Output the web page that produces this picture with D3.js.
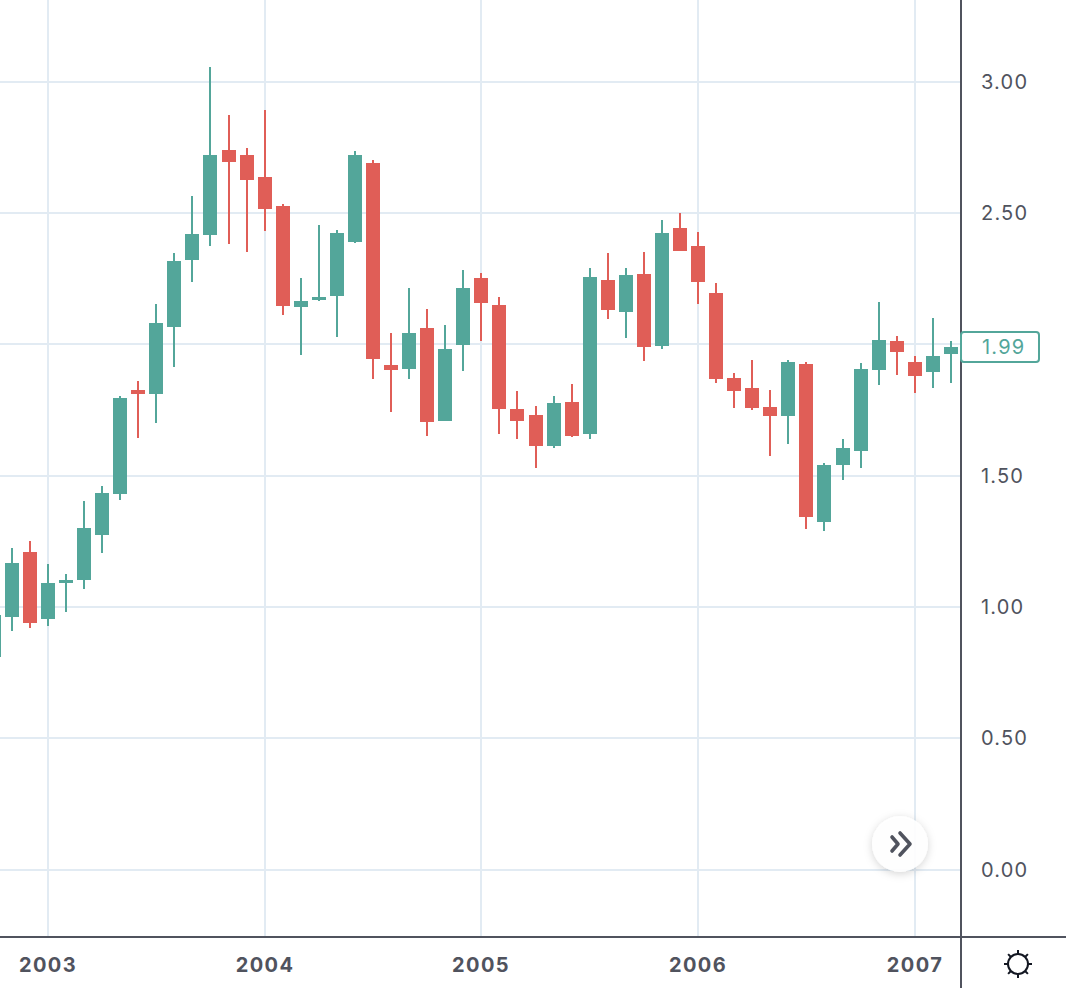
<!DOCTYPE html>
<html>
<head>
<meta charset="utf-8">
<script src="https://cdn.jsdelivr.net/npm/d3@7"></script>
<style>
  html, body { margin: 0; padding: 0; background: #fff; }
  svg { display: block; }
  svg text { font-family: Inter, "Open Sans", sans-serif; }
</style>
</head>
<body>
<div id="chart"></div>
<script>
// Monthly bars, Oct 2002 to Mar 2007.
var months = [
  '2002-10', '2002-11', '2002-12',
  '2003-01', '2003-02', '2003-03', '2003-04', '2003-05', '2003-06', '2003-07', '2003-08', '2003-09', '2003-10', '2003-11', '2003-12',
  '2004-01', '2004-02', '2004-03', '2004-04', '2004-05', '2004-06', '2004-07', '2004-08', '2004-09', '2004-10', '2004-11', '2004-12',
  '2005-01', '2005-02', '2005-03', '2005-04', '2005-05', '2005-06', '2005-07', '2005-08', '2005-09', '2005-10', '2005-11', '2005-12',
  '2006-01', '2006-02', '2006-03', '2006-04', '2006-05', '2006-06', '2006-07', '2006-08', '2006-09', '2006-10', '2006-11', '2006-12',
  '2007-01', '2007-02', '2007-03'];

var opens = [
  0.811, 0.963, 1.211,
  0.956, 1.093, 1.104, 1.275, 1.431, 1.827, 1.812, 2.067, 2.322, 2.417, 2.741, 2.722,
  2.638, 2.528, 2.143, 2.170, 2.185, 2.391, 2.692, 1.923, 1.907, 2.063, 1.709, 1.999,
  2.254, 2.151, 1.755, 1.732, 1.614, 1.782, 1.660, 2.246, 2.124, 2.269, 1.995, 2.444,
  2.376, 2.197, 1.873, 1.835, 1.763, 1.728, 1.926, 1.325, 1.542, 1.595, 1.904, 2.014,
  1.934, 1.896, 1.965];

var highs = [
  0.980, 1.226, 1.253,
  1.165, 1.127, 1.405, 1.462, 1.805, 1.862, 2.155, 2.349, 2.566, 3.057, 2.874, 2.749,
  2.893, 2.535, 2.254, 2.456, 2.437, 2.737, 2.703, 2.044, 2.216, 2.136, 2.075, 2.284,
  2.273, 2.181, 1.824, 1.766, 1.805, 1.850, 2.292, 2.349, 2.292, 2.353, 2.475, 2.501,
  2.429, 2.235, 1.892, 1.942, 1.827, 1.942, 1.934, 1.549, 1.641, 1.930, 2.162, 2.033,
  1.957, 2.102, 2.014];

var lows = [
  0.800, 0.910, 0.921,
  0.929, 0.982, 1.070, 1.207, 1.409, 1.645, 1.702, 1.915, 2.239, 2.376, 2.383, 2.353,
  2.433, 2.113, 1.961, 2.166, 2.029, 2.387, 1.869, 1.744, 1.869, 1.652, 1.709, 1.900,
  2.014, 1.660, 1.641, 1.530, 1.607, 1.648, 1.641, 2.098, 2.025, 1.938, 1.983, 2.357,
  2.155, 1.854, 1.759, 1.751, 1.576, 1.622, 1.298, 1.291, 1.485, 1.530, 1.846, 1.885,
  1.816, 1.835, 1.854];

var closes = [
  0.971, 1.169, 0.940,
  1.093, 1.104, 1.302, 1.435, 1.797, 1.812, 2.082, 2.318, 2.421, 2.722, 2.695, 2.627,
  2.516, 2.147, 2.166, 2.181, 2.425, 2.722, 1.945, 1.904, 2.044, 1.706, 1.983, 2.216,
  2.159, 1.755, 1.709, 1.614, 1.778, 1.652, 2.258, 2.132, 2.265, 1.991, 2.425, 2.357,
  2.239, 1.869, 1.824, 1.759, 1.728, 1.934, 1.344, 1.542, 1.607, 1.907, 2.018, 1.972,
  1.881, 1.957, 1.991];

var yearTicks = ['2003-01', '2004-01', '2005-01', '2006-01', '2007-01'];
var priceTicks = [0, 0.5, 1, 1.5, 2, 2.5, 3];
var lastPrice = 1.99;

var width = 1066,
  height = 988,
  plotRight = 961,
  plotBottom = 937;

var upColor = '#53a69a',
  downColor = '#e05e57',
  gridColor = '#e2ebf3',
  axisColor = '#50535e';

var svg = d3.select('#chart').append('svg').
  attr('width', width).
  attr('height', height);

var x = d3.scalePoint().domain(months).range([-6.27, 950.91]);
var y = d3.scaleLinear().domain([0, 3]).range([870, 82]);

// Horizontal grid and price labels come from the same right axis.
var yAxis = svg.append('g').
  attr('transform', 'translate(' + plotRight + ',0)').
  call(d3.axisRight(y).offset(0).tickValues(priceTicks).tickFormat(function (d) {
    // The 2.00 label sits under the last price box.
    return d === 2 ? '' : d3.format('.2f')(d);
  }).tickSize(0).tickPadding(20));
yAxis.select('.domain').remove();
yAxis.selectAll('.tick').
  attr('transform', function (d) { return 'translate(0,' + Math.floor(y(d)) + ')'; });
yAxis.selectAll('text').
  attr('dy', '0.37em').
  attr('fill', axisColor).
  style('font-size', '20px').
  style('letter-spacing', '1.2px');
yAxis.selectAll('.tick line').
  attr('x1', -plotRight).
  attr('x2', 0).
  attr('stroke', gridColor).
  attr('stroke-width', 2);

var xAxis = svg.append('g').
  attr('transform', 'translate(0,' + plotBottom + ')').
  call(d3.axisBottom(x).offset(0).tickValues(yearTicks).tickFormat(function (d) {
    return d.slice(0, 4);
  }).tickSize(0).tickPadding(21));
xAxis.select('.domain').remove();
xAxis.selectAll('.tick').
  attr('transform', function (d) { return 'translate(' + Math.round(x(d)) + ',0)'; });
xAxis.selectAll('text').
  attr('fill', axisColor).
  style('font-size', '20px').
  style('font-weight', 700).
  style('letter-spacing', '1.4px');
xAxis.selectAll('.tick line').
  attr('y1', -plotBottom).
  attr('y2', 0).
  attr('stroke', gridColor).
  attr('stroke-width', 2);

// Candles.
var candles = svg.append('g').selectAll('g').
  data(months).
  enter().append('g').
  attr('fill', function (d, i) {
    return closes[i] >= opens[i] ? upColor : downColor;
  });

candles.append('rect').
  attr('x', function (d) { return Math.round(x(d)) - 1; }).
  attr('width', 2).
  attr('y', function (d, i) { return Math.round(y(highs[i])); }).
  attr('height', function (d, i) { return Math.round(y(lows[i])) - Math.round(y(highs[i])); });

candles.append('rect').
  attr('x', function (d) { return Math.round(x(d)) - 7; }).
  attr('width', 14).
  attr('y', function (d, i) { return Math.round(y(Math.max(opens[i], closes[i]))); }).
  attr('height', function (d, i) {
    return Math.max(2, Math.round(y(Math.min(opens[i], closes[i]))) - Math.round(y(Math.max(opens[i], closes[i]))));
  });

// Axis borders.
svg.append('line').
  attr('x1', plotRight).attr('x2', plotRight).
  attr('y1', 0).attr('y2', height).
  attr('stroke', axisColor).attr('stroke-width', 2);
svg.append('line').
  attr('x1', 0).attr('x2', width).
  attr('y1', plotBottom).attr('y2', plotBottom).
  attr('stroke', axisColor).attr('stroke-width', 2);

// Last price label.
svg.append('rect').
  attr('x', plotRight).
  attr('y', Math.round(y(lastPrice)) - 15).
  attr('width', 78).
  attr('height', 30).
  attr('rx', 3).
  attr('fill', '#fff').
  attr('stroke', upColor).
  attr('stroke-width', 2);
svg.append('text').
  attr('x', 982).
  attr('y', Math.round(y(lastPrice))).
  attr('dy', '0.35em').
  attr('fill', upColor).
  style('font-size', '20px').
  style('letter-spacing', '1.2px').
  text(d3.format('.2f')(lastPrice));

// Scroll to latest button.
var defs = svg.append('defs');
var shadow = defs.append('filter').attr('id', 'btn-shadow').
  attr('x', '-40%').attr('y', '-40%').attr('width', '180%').attr('height', '180%');
shadow.append('feDropShadow').
  attr('dx', 0).attr('dy', 2).attr('stdDeviation', 4).
  attr('flood-color', '#000').attr('flood-opacity', 0.18);

var button = svg.append('g').attr('transform', 'translate(900,844)');
button.append('circle').
  attr('r', 28).
  attr('fill', 'rgba(255,255,255,0.92)').
  attr('filter', 'url(#btn-shadow)');
button.append('path').
  attr('d', 'M-8,-7 L-2,0 L-8,7 M0,-11 L10,0 L0,11').
  attr('fill', 'none').
  attr('stroke', axisColor).
  attr('stroke-width', 3.6).
  attr('stroke-linecap', 'round').
  attr('stroke-linejoin', 'round');

// Theme toggle icon.
var sun = svg.append('g').
  attr('transform', 'translate(1018,964)').
  attr('fill', 'none').
  attr('stroke', '#131722').
  attr('stroke-width', 2);
sun.append('circle').attr('r', 10);
d3.range(8).forEach(function (i) {
  sun.append('line').
    attr('x1', 0).attr('x2', 0).
    attr('y1', -10).attr('y2', -14).
    attr('transform', 'rotate(' + i * 45 + ')');
});
</script>
</body>
</html>
